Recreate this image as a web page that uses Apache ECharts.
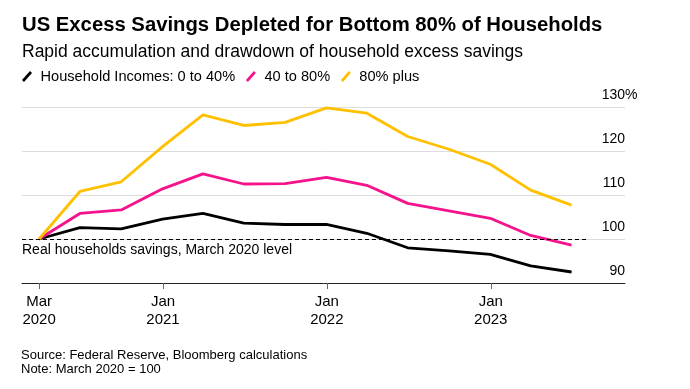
<!DOCTYPE html>
<html>
<head>
<meta charset="utf-8">
<script src="https://cdn.jsdelivr.net/npm/echarts@6/dist/echarts.min.js"></script>
<style>html,body{margin:0;padding:0;background:#fff;}#chart{width:690px;height:389px;}</style>
</head>
<body>
<div id="chart"></div>
<script>
// ---- data ----
const quarterEnds = ['2020-03-31','2020-06-30','2020-09-30','2020-12-31','2021-03-31','2021-06-30','2021-09-30','2021-12-31','2022-03-31','2022-06-30','2022-09-30','2022-12-31','2023-03-31','2023-06-30'];
const bottom40 = [100, 102.6, 102.3, 104.5, 105.8, 103.6, 103.3, 103.3, 101.3, 98.0, 97.3, 96.5, 93.9, 92.5];
const mid40to80 = [100, 105.8, 106.6, 111.4, 114.8, 112.5, 112.6, 114.0, 112.2, 108.1, 106.4, 104.7, 100.8, 98.6];
const top80plus = [100, 110.8, 113.0, 121.0, 128.2, 125.8, 126.5, 129.8, 128.6, 123.3, 120.4, 117.0, 111.1, 107.7];
const seriesNames = ['Household Incomes: 0 to 40%', '40 to 80%', '80% plus'];
const tickDates = ['2020-03-31','2021-01-01','2022-01-01','2023-01-01'];
const tickLabels = ['Mar\n2020','Jan\n2021','Jan\n2022','Jan\n2023'];
const xRange = ['2020-02-22','2023-10-27'];
const yTicks = [90, 100, 110, 120, 130];
const refLevel = 100;
const refRange = ['2020-02-22','2023-08-05'];
const refLabel = 'Real households savings, March 2020 level';

// dates -> day number (days since 1970-01-01, UTC)
const dn = s => { const p = s.split('-').map(Number); return Date.UTC(p[0], p[1]-1, p[2]) / 86400000; };
const tickDn = tickDates.map(dn);
const FONT = "'Liberation Sans', Arial, sans-serif";
const colors = ['#000000', '#f5138c', '#ffc000'];
const iconPath = 'path://M0,9 L8,0 L10,2 L2,11 Z';

const chart = echarts.init(document.getElementById('chart'), null, {renderer: 'canvas'});
const mk = (name, vals, color, extra) => Object.assign({
  name, type: 'line', symbol: 'none', smooth: false,
  data: quarterEnds.map((d, i) => [dn(d), vals[i]]),
  lineStyle: {color, width: 2.8}, itemStyle: {color},
  emphasis: {disabled: true}
}, extra || {});

chart.setOption({
  animation: false,
  textStyle: {fontFamily: FONT},
  title: [
    {text: 'US Excess Savings Depleted for Bottom 80% of Households', left: 22, top: 15.5, padding: 0,
     textStyle: {fontSize: 20.3, fontWeight: 'bold', color: '#000', fontFamily: FONT}},
    {text: 'Rapid accumulation and drawdown of household excess savings', left: 22, top: 43, padding: 0,
     textStyle: {fontSize: 17.5, fontWeight: 'normal', color: '#000', fontFamily: FONT}},
    {text: 'Source: Federal Reserve, Bloomberg calculations\nNote: March 2020 = 100', left: 21, top: 348, padding: 0,
     textStyle: {fontSize: 13, fontWeight: 'normal', color: '#000', lineHeight: 14, fontFamily: FONT}}
  ],
  legend: {
    left: 22, top: 69, padding: 0, itemWidth: 11, itemHeight: 11, itemGap: 10.7,
    data: seriesNames.map(n => ({name: n, icon: iconPath})),
    textStyle: {fontSize: 14.6, color: '#000', fontFamily: FONT, padding: [0,0,0,3]},
    selectedMode: false
  },
  grid: {left: 22, right: 65, top: 107, bottom: 106},
  xAxis: {
    type: 'value', min: dn(xRange[0]), max: dn(xRange[1]), scale: true,
    axisLine: {show: true, lineStyle: {color: '#222', width: 1}},
    axisTick: {show: true, customValues: tickDn, length: 6, lineStyle: {color: '#666'}},
    axisLabel: {
      customValues: tickDn, fontSize: 15, lineHeight: 18, color: '#000', margin: 10, fontFamily: FONT,
      formatter: v => { const i = tickDn.indexOf(v); return i >= 0 ? tickLabels[i] : ''; }
    },
    splitLine: {show: false}
  },
  yAxis: {
    type: 'value', position: 'right', min: yTicks[0], max: yTicks[yTicks.length-1], interval: 10,
    axisLine: {show: false}, axisTick: {show: false},
    splitLine: {show: true, lineStyle: {color: '#dcdcdc', width: 1}},
    axisLabel: {
      inside: true, margin: 0, verticalAlign: 'bottom', padding: [0,0,5,0],
      fontSize: 14, color: '#000', fontFamily: FONT,
      formatter: v => v === yTicks[yTicks.length-1] ? '{n|' + v + '}{p|%}' : '{n|' + v + '}',
      rich: {
        n: {fontSize: 14, color: '#000', fontFamily: FONT, align: 'left'},
        p: {fontSize: 14, color: '#000', fontFamily: FONT, align: 'left', width: 0}
      }
    }
  },
  series: [
    mk(seriesNames[0], bottom40, colors[0], {
      markLine: {
        silent: true, symbol: 'none',
        lineStyle: {color: '#000', type: [4, 3], width: 1.2},
        label: {show: true, position: 'insideStartBottom', formatter: refLabel, fontSize: 14, color: '#000', fontFamily: FONT, distance: [0, 4]},
        data: [[{coord: [dn(refRange[0]), refLevel]}, {coord: [dn(refRange[1]), refLevel]}]]
      }
    }),
    mk(seriesNames[1], mid40to80, colors[1]),
    mk(seriesNames[2], top80plus, colors[2])
  ]
});
</script>
</body>
</html>
